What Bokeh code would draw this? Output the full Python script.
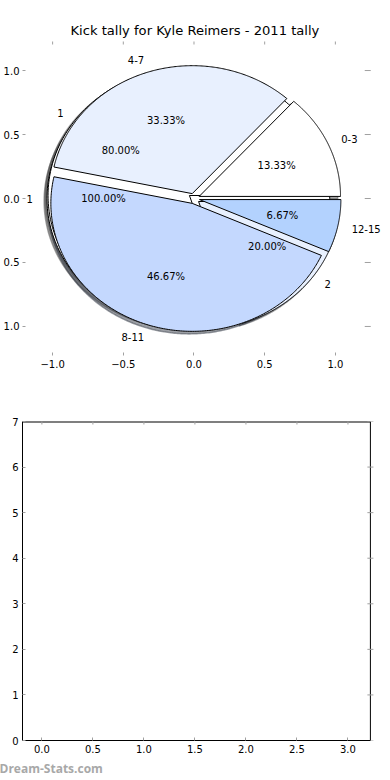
import numpy as np
from bokeh.plotting import figure
from bokeh.models import (ColumnDataSource, LabelSet, Range1d, FixedTicker, LinearAxis,
                          PrintfTickFormatter, Title)
from bokeh.layouts import column
from bokeh.embed import file_html
from bokeh.resources import INLINE
from bokeh.core.properties import value

# ---------------- data ----------------
title_text = "Kick tally for Kyle Reimers - 2011 tally"
main_labels = ["0-3", "4-7", "8-11", "12-15"]
main_values = [2, 5, 7, 1]
inner_labels = ["1", "2"]
inner_values = [4, 1]
whole_labels = ["1"]
whole_values = [1]
pie_colors = ["#ffffff", "#e8f0fe", "#c4d8fe", "#b3d2fe"]

pie_ticks = [-1.0, -0.5, 0.0, 0.5, 1.0]
pie_x_tick_text = ["\u22121.0", "\u22120.5", "0.0", "0.5", "1.0"]
pie_y_tick_text = ["1.0", "0.5", "0.0", "0.5", "1.0"]   # minus signs cropped off in the reference

bar_x_ticks = [0.0, 0.5, 1.0, 1.5, 2.0, 2.5, 3.0]
bar_y_ticks = [0, 1, 2, 3, 4, 5, 6, 7]
watermark = "Dream-Stats.com"

# axis limits (visible window of each panel)
PIE_X = (-1.213, 1.390)
PIE_Y = (-1.227, 1.227)
PIE_RIGHT_EDGE = 1.241
BAR_X = (-0.19, 3.417)
BAR_BOX_RIGHT = 3.22
BAR_Y = (0, 7)

EXPLODE = 0.04
SHADOW = (-0.02, -0.02)
FONT = "DejaVu Sans"
TICK_COLOR = "#a0a0a0"


def hex_to_rgb(h):
    h = h.lstrip("#")
    return tuple(int(h[i:i + 2], 16) for i in (0, 2, 4))


def shadow_color(h):
    r, g, b = hex_to_rgb(h)
    return "#%02x%02x%02x" % (int(r * 0.3), int(g * 0.3), int(b * 0.3))


def pie_geometry(values, labels, explode):
    total = float(sum(values))
    res = []
    t1 = 0.0
    for i, v in enumerate(values):
        t2 = t1 + 360.0 * v / total
        m = np.deg2rad(0.5 * (t1 + t2))
        cx, cy = explode * np.cos(m), explode * np.sin(m)
        th = np.deg2rad(np.linspace(t1, t2, 241))
        px = list(cx + np.cos(th))
        py = list(cy + np.sin(th))
        if t2 - t1 < 359.999:
            px = [cx] + px
            py = [cy] + py
        res.append(dict(px=px, py=py, m=m, cx=cx, cy=cy, frac=v / total,
                        label=labels[i], color=pie_colors[i % len(pie_colors)]))
        t1 = t2
    return res


def style_axis(ax, ticks, overrides=None, standoff=4):
    ax.ticker = FixedTicker(ticks=ticks)
    ax.axis_line_color = None
    ax.major_tick_line_color = TICK_COLOR
    ax.major_tick_in = 3
    ax.major_tick_out = 0
    ax.minor_tick_line_color = None
    ax.major_label_text_font = FONT
    ax.major_label_text_font_size = "10px"
    ax.major_label_text_color = "black"
    ax.major_label_standoff = standoff
    if overrides:
        ax.major_label_overrides = overrides


def edge_ticks(fig, xs, ys, vertical):
    fig.scatter(x=xs, y=ys, marker="dash", size=6, angle=(np.pi / 2 if vertical else 0.0),
                line_color=TICK_COLOR, line_width=1)


pies = [pie_geometry(whole_values, whole_labels, EXPLODE),
        pie_geometry(inner_values, inner_labels, EXPLODE),
        pie_geometry(main_values, main_labels, EXPLODE)]

# ---------------- top figure (pies) ----------------
p = figure(width=390, height=400, output_backend="svg", toolbar_location=None,
           x_range=Range1d(*PIE_X), y_range=Range1d(*PIE_Y),
           min_border_left=21, min_border_right=0, min_border_top=41, min_border_bottom=45,
           x_axis_type=None, y_axis_type=None)
p.outline_line_color = None
p.grid.visible = False
p.background_fill_color = "white"
p.border_fill_color = "white"

p.title.text = title_text
p.title.align = "left"
p.title.text_font = FONT
p.title.text_font_size = "13.1px"
p.title.text_font_style = "normal"
p.title.text_color = "black"
p.title.standoff = 7
p.title.offset = 48

ax_b = LinearAxis()
style_axis(ax_b, pie_ticks, {t: s for t, s in zip(pie_ticks, pie_x_tick_text)}, 4)
p.add_layout(ax_b, "below")
ax_l = LinearAxis()
style_axis(ax_l, pie_ticks, {t: s for t, s in zip(pie_ticks, pie_y_tick_text)}, 3)
p.add_layout(ax_l, "left")

# tick marks on the top edge and on the right (the frame itself is not drawn)
edge_ticks(p, pie_ticks, [PIE_Y[1]] * len(pie_ticks), True)
edge_ticks(p, [PIE_RIGHT_EDGE - 0.012] * len(pie_ticks), pie_ticks, False)

# shadows (beneath every wedge)
for pie in pies:
    sx = [[x + SHADOW[0] for x in w["px"]] for w in pie]
    sy = [[y + SHADOW[1] for y in w["py"]] for w in pie]
    sc = [shadow_color(w["color"]) for w in pie]
    p.patches(xs=sx, ys=sy, fill_color=sc, fill_alpha=0.5, line_color=sc, line_alpha=0.5,
              line_width=1.5)

# wedges
for pie in pies:
    src = ColumnDataSource(dict(xs=[w["px"] for w in pie], ys=[w["py"] for w in pie],
                                color=[w["color"] for w in pie]))
    p.patches(xs="xs", ys="ys", source=src, fill_color="color", line_color="black",
              line_width=1, line_join="miter")

# labels and percentages
left_x, left_y, left_t = [], [], []
right_x, right_y, right_t = [], [], []
pct_x, pct_y, pct_t = [], [], []
for pie in pies:
    for w in pie:
        lx = w["cx"] + 1.1 * np.cos(w["m"])
        ly = w["cy"] + 1.1 * np.sin(w["m"])
        if lx > 0:
            left_x.append(lx); left_y.append(ly); left_t.append(w["label"])
        else:
            right_x.append(lx); right_y.append(ly); right_t.append(w["label"])
        pct_x.append(w["cx"] + 0.6 * np.cos(w["m"]))
        pct_y.append(w["cy"] + 0.6 * np.sin(w["m"]))
        pct_t.append("%1.2f%%" % (100.0 * w["frac"]))

for xs_, ys_, ts_, al in [(left_x, left_y, left_t, "left"),
                          (right_x, right_y, right_t, "right"),
                          (pct_x, pct_y, pct_t, "center")]:
    ls = LabelSet(x="x", y="y", text="t", source=ColumnDataSource(dict(x=xs_, y=ys_, t=ts_)),
                  text_align=value(al), text_baseline=value("middle"), text_font=value(FONT),
                  text_font_size=value("10px"), text_color=value("black"))
    p.add_layout(ls)

# ---------------- bottom figure (empty axes) ----------------
q = figure(width=390, height=380, output_backend="svg", toolbar_location=None,
           x_range=Range1d(*BAR_X), y_range=Range1d(*BAR_Y),
           min_border_left=21, min_border_right=0, min_border_top=21, min_border_bottom=40,
           x_axis_type=None, y_axis_type=None)
q.grid.visible = False
q.outline_line_color = None
q.background_fill_color = "white"
q.border_fill_color = "white"

qb = LinearAxis()
style_axis(qb, bar_x_ticks, None, 4)
qb.formatter = PrintfTickFormatter(format="%.1f")
qb.bounds = (BAR_X[0], BAR_BOX_RIGHT)
qb.axis_line_color = "black"
q.add_layout(qb, "below")
ql = LinearAxis()
style_axis(ql, bar_y_ticks, None, 4)
ql.axis_line_color = "black"
q.add_layout(ql, "left")

# the rest of the axes box (top and right edges) with inward ticks
q.segment(x0=[BAR_X[0]], y0=[BAR_Y[1]], x1=[BAR_BOX_RIGHT], y1=[BAR_Y[1]],
          line_color="black", line_width=2)
q.segment(x0=[BAR_BOX_RIGHT], y0=[BAR_Y[0]], x1=[BAR_BOX_RIGHT], y1=[BAR_Y[1]],
          line_color="black", line_width=1)
edge_ticks(q, bar_x_ticks, [BAR_Y[1]] * len(bar_x_ticks), True)
q.scatter(x=[BAR_BOX_RIGHT] * len(bar_y_ticks), y=bar_y_ticks, marker="dash", size=6,
          line_color=TICK_COLOR, line_width=1)

wm = Title(text=watermark, align="left", offset=-23, standoff=5, text_font="Open Sans",
           text_font_style="bold", text_font_size="12px", text_color="#a8a8a8")
q.add_layout(wm, "below")

layout = column(p, q, spacing=0)
open("out.html", "w").write(file_html(layout, INLINE))
